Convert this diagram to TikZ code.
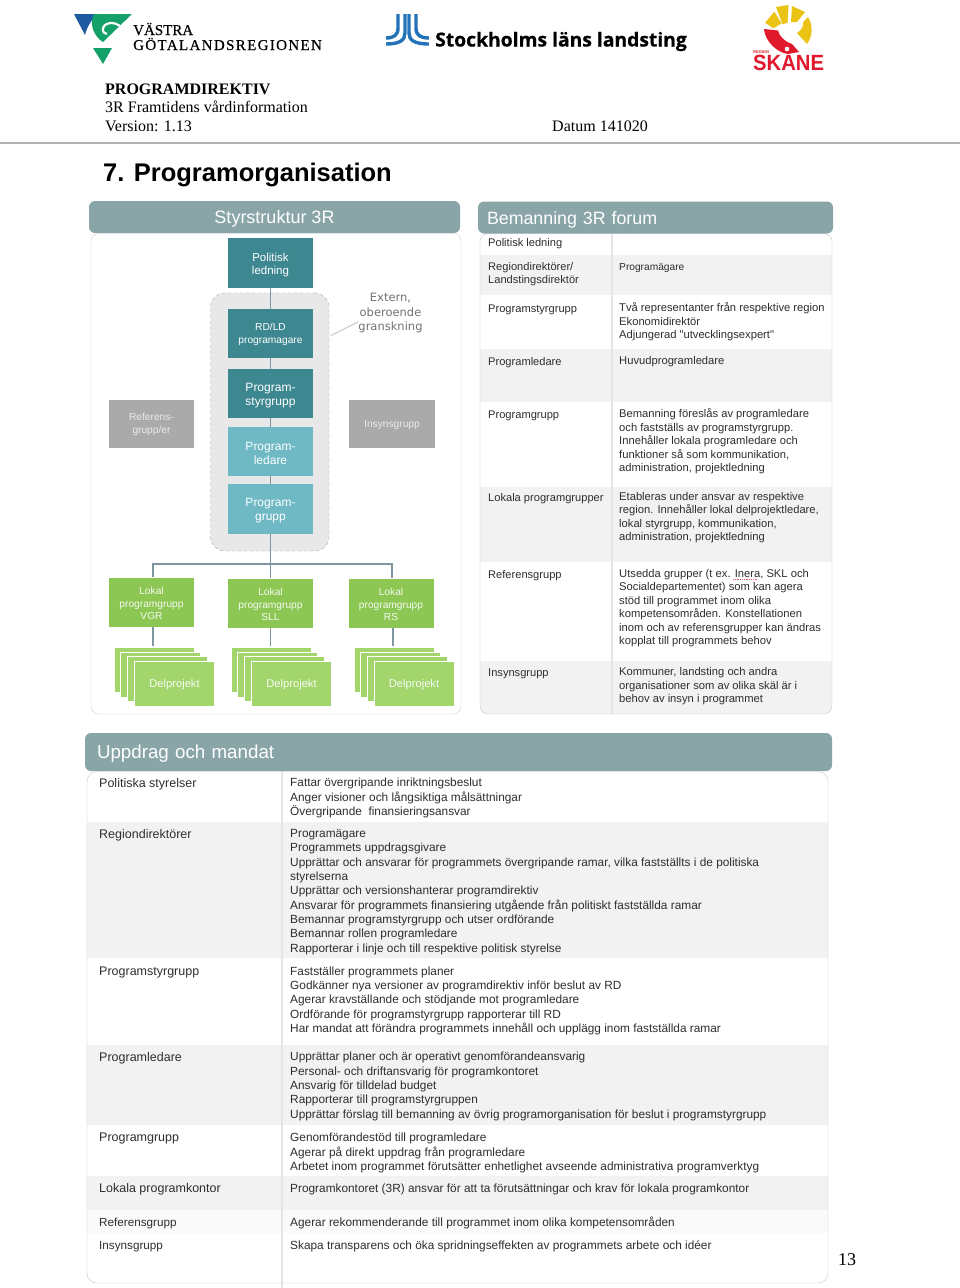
\documentclass[tikz,border=0pt]{standalone}
\usepackage{fontspec}
\setmainfont{Liberation Serif}
\newfontfamily\ArialFont{Liberation Sans}
\newfontfamily\VerdanaFont{DejaVu Sans}
\newfontfamily\LogoFont[BoldFeatures={FakeBold=0.6}]{Open Sans}
\newfontfamily\VgrFont[FakeBold=0.35]{Liberation Serif}
\newfontfamily\SpacedFont[LetterSpace=9,FakeBold=0.35]{Liberation Serif}
\definecolor{ColHead}{RGB}{137,165,168}
\definecolor{ColDark}{RGB}{61,135,145}
\definecolor{ColLight}{RGB}{110,185,195}
\definecolor{ColGrey}{RGB}{170,170,170}
\definecolor{ColLokal}{RGB}{140,198,83}
\definecolor{ColDelp}{RGB}{162,213,107}
\definecolor{ColBand}{RGB}{242,242,242}
\definecolor{ColEdge}{RGB}{125,150,160}
\definecolor{ColFrame}{RGB}{208,212,216}
\definecolor{ColVgrB}{RGB}{30,90,160}
\definecolor{ColVgrG}{RGB}{20,160,105}
\definecolor{ColSll}{RGB}{35,115,185}
\definecolor{ColSunY}{RGB}{235,195,20}
\definecolor{ColSunR}{RGB}{225,25,45}
\tikzstyle{HeadBar}=[fill=ColHead,rounded corners=6pt,inner sep=0pt,inner xsep=9pt,minimum height=32pt,text=white,
text height=15.5pt,text depth=2pt]
\tikzstyle{BoxOrg}=[inner sep=0pt,minimum width=85pt,minimum height=50pt,align=center,text=white,
execute at begin node={\rule{0pt}{0.98em}},font=\ArialFont\fontsize{11.5}{13}\selectfont]
\tikzstyle{TwoLines}=[execute at begin node={\rule{0pt}{2.15em}}]
\tikzstyle{ThreeLines}=[execute at begin node={\rule{0pt}{3.45em}}]
\tikzstyle{BoxDark}=[BoxOrg,fill=ColDark]
\tikzstyle{BoxLight}=[BoxOrg,fill=ColLight]
\tikzstyle{BoxGrey}=[BoxOrg,fill=ColGrey,text=white!92!black,minimum height=48.5pt,
font=\ArialFont\fontsize{10.2}{13}\selectfont]
\tikzstyle{BoxLokal}=[BoxOrg,ThreeLines,fill=ColLokal,text=white!92!ColLokal,minimum height=49pt,
font=\ArialFont\fontsize{10.2}{12.4}\selectfont]
\tikzstyle{BoxDelp}=[BoxOrg,fill=ColDelp,draw=white,minimum width=80pt,minimum height=45pt,text=white!92!ColDelp,
font=\ArialFont\fontsize{11.2}{13}\selectfont]
\tikzstyle{EdgeOrg}=[ColEdge,line width=1.6pt]
\tikzstyle{CellLeft}=[anchor=north west,inner sep=0pt,align=left,yshift=5.75pt,text=black!82,
execute at begin node=\strut,font=\ArialFont\fontsize{12.5}{14.35}\selectfont]
\tikzstyle{CellRight}=[CellLeft,font=\ArialFont\fontsize{11.85}{14.35}\selectfont]
\tikzstyle{ForumLeft}=[CellLeft,yshift=-0.8pt,font=\ArialFont\fontsize{11.1}{13.5}\selectfont]
\tikzstyle{ForumRight}=[ForumLeft,font=\ArialFont\fontsize{11.2}{13.5}\selectfont]
\tikzstyle{PageText}=[anchor=base west,inner sep=0pt,font=\fontsize{16}{18}\selectfont]

\begin{document}
\begin{tikzpicture}[x=1pt,y=-1pt]
        \useasboundingbox(0,0)rectangle(960,1288);
        \fill[white](0,0)rectangle(960,1288);
        % logo left
        \fill[ColVgrB](74,14)--(98,14).. controls (91,20) and (87,27) .. (85,35)--cycle;
        \fill[ColVgrG](94,14)--(132,14)--(103,42).. controls (96,38) and (88,26) .. (94,14)--cycle;
        \draw[white,line width=2.2pt](120,26).. controls (115,22) and (106,21) .. (103,28).. controls (102,32) and (105,34) .. (107,34);
        \fill[ColVgrG](93,48)--(112,48)--(103,64)--cycle;
        \node[anchor=base west,inner sep=0pt,font=\VgrFont\fontsize{15}{16}\selectfont](VgrOne)at(133,35){VÄSTRA};
        \node[anchor=base west,inner sep=0pt,font=\SpacedFont\fontsize{15}{16}\selectfont](VgrTwo)at(133,50){GÖTALANDSREGIONEN};
        % logo middle
        \draw[ColSll,line width=3.4pt](398,14)--(398,28).. controls (398,35) and (394,38) .. (386,38);
        \draw[ColSll,line width=3.4pt](405,14)--(405,33).. controls (405,40) and (400,44) .. (386,44);
        \draw[ColSll,line width=3.4pt](409,14)--(409,33).. controls (409,40) and (414,44) .. (429,44);
        \draw[ColSll,line width=3.4pt](416,14)--(416,28).. controls (416,35) and (420,38) .. (429,38);
        \node[anchor=base west,inner sep=0pt,font=\LogoFont\bfseries\fontsize{19.3}{20}\selectfont](SllText)at(435,46.5){Stockholms läns landsting};
        % logo right
        \fill[ColSunY](765,22.7)--(774.3,11.7)--(781.7,23.3)--(773.3,28.3)--cycle;
        \fill[ColSunY](776,7)--(788.5,5)--(787.5,23)--(782.5,24)--cycle;
        \fill[ColSunY](792,6)--(805,12)--(797,22)--(791,22)--cycle;
        \fill[ColSunY](808,17).. controls (813,25) and (813,36) .. (807,44)--(797,33).. controls (802,30) and (804,25) .. (803,22)--cycle;
        \fill[ColSunR](764,29)--(778,30.5).. controls (779,36) and (785,42) .. (792,44)--(799,52)--(788,54).. controls (778,53) and (765,42) .. (764,29)--cycle;
        \fill[white](787,49)circle(2.3);
        \node[anchor=base west,inner sep=0pt,text=ColSunR,font=\ArialFont\bfseries\fontsize{4}{5}\selectfont](SkaneSmall)at(753,53.5){REGION};
        \node[anchor=base west,inner sep=0pt,text=ColSunR,font=\ArialFont\bfseries\fontsize{22}{24}\selectfont,xscale=0.92](SkaneText)at(753,70.5){SKANE};
        % page head
        \node[PageText,font=\bfseries\fontsize{16}{18}\selectfont](DocKind)at(105,94.5){PROGRAMDIREKTIV};
        \node[PageText](DocName)at(105,112){3R Framtidens vårdinformation};
        \node[PageText](DocVersion)at(105,131){Version: 1.13};
        \node[PageText](DocDate)at(552,131){Datum 141020};
        \draw[black!30,line width=2pt](0,142.5)--(960,142.5);
        \node[PageText,font=\ArialFont\bfseries\fontsize{25.5}{30}\selectfont](DocTitle)at(103,181){7. Programorganisation};
        \node[PageText,font=\fontsize{18}{20}\selectfont](PageNum)at(838,1265){13};
        % left panel
        \draw[ColFrame,fill=white,rounded corners=8pt](91,233.5)rectangle(461,714);
        \node[HeadBar,minimum width=371pt,font=\ArialFont\fontsize{18}{20}\selectfont](HeadOrg)at(274.5,217){Styrstruktur 3R};
        \node[fill=black!9,draw=black!35,dashed,rounded corners=14pt,minimum width=118.5pt,minimum height=258pt](GroupOrg)at(269.75,422){};
        \node[BoxDark,TwoLines](Politisk)at(270.5,263){Politisk\\ledning};
        \node[BoxDark,TwoLines,minimum height=49pt,font=\ArialFont\fontsize{10.2}{12.5}\selectfont](Rdld)at(270.5,333.5){RD/LD\\programagare};
        \node[BoxDark,TwoLines,minimum height=49pt,font=\ArialFont\fontsize{12}{14}\selectfont](ProgStyr)at(270.5,393.5){Program-\\styrgrupp};
        \node[BoxLight,TwoLines,minimum height=49pt,font=\ArialFont\fontsize{12}{14}\selectfont](ProgLed)at(270.5,451.5){Program-\\ledare};
        \node[BoxLight,TwoLines,font=\ArialFont\fontsize{12}{14}\selectfont](ProgGrp)at(270.5,509){Program-\\grupp};
        \node[BoxGrey,TwoLines](RefGrp)at(151.5,424){Referens-\\grupp/er};
        \node[BoxGrey,minimum width=86pt](InsGrp)at(392,424){Insynsgrupp};
        \node[inner sep=0pt,align=center,text=black!55,ThreeLines,font=\VerdanaFont\fontsize{11.5}{14.4}\selectfont](Extern)at(390.5,312){Extern,\\oberoende\\granskning};
        \coordinate(ExternEnd)at(331,335.5);
        \draw[black!25,line width=0.8pt](ExternEnd)--(Extern.197);
        \draw[EdgeOrg](Politisk)--(Rdld);
        \draw[EdgeOrg](Rdld)--(ProgStyr);
        \draw[EdgeOrg](ProgStyr)--(ProgLed);
        \draw[EdgeOrg](ProgLed)--(ProgGrp);
        \coordinate(BusMid)at(270.5,564);
        \coordinate(BusLeft)at(153,564);
        \coordinate(BusRight)at(392,564);
        \node[BoxLokal](LokalVgr)at(151.5,602){Lokal\\programgrupp\\VGR};
        \node[BoxLokal](LokalSll)at(270.5,603){Lokal\\programgrupp\\SLL};
        \node[BoxLokal](LokalRs)at(391,603){Lokal\\programgrupp\\RS};
        \draw[EdgeOrg](ProgGrp)--(BusMid);
        \draw[EdgeOrg](BusMid)--(LokalSll);
        \draw[EdgeOrg](LokalVgr.north-|BusLeft)--(BusLeft)--(BusRight)--(LokalRs.north-|BusRight);
        \coordinate(VgrTop)at(153,646);
        \coordinate(SllTop)at(270.5,646);
        \coordinate(RsTop)at(393,646);
        \draw[EdgeOrg](LokalVgr.south-|VgrTop)--(VgrTop);
        \draw[EdgeOrg](LokalSll.south-|SllTop)--(SllTop);
        \draw[EdgeOrg](LokalRs.south-|RsTop)--(RsTop);
        \node[BoxDelp](VgrA)at(154,670){};
        \node[BoxDelp](VgrB)at(160.5,674.5){};
        \node[BoxDelp](VgrC)at(167.5,678.5){};
        \node[BoxDelp](VgrD)at(174.5,683.5){Delprojekt};
        \node[BoxDelp](SllA)at(271.5,670){};
        \node[BoxDelp](SllB)at(277,674.5){};
        \node[BoxDelp](SllC)at(284.5,678.5){};
        \node[BoxDelp](SllD)at(291.5,683.5){Delprojekt};
        \node[BoxDelp](RsA)at(394,670){};
        \node[BoxDelp](RsB)at(400,674.5){};
        \node[BoxDelp](RsC)at(407,678.5){};
        \node[BoxDelp](RsD)at(414,683.5){Delprojekt};
        % right panel
        \begin{scope}
            \clip[rounded corners=8pt](480,233.5)rectangle(832,714);
            \fill[ColBand](480,255)rectangle(832,295);
            \fill[ColBand](480,349)rectangle(832,402);
            \fill[ColBand](480,487)rectangle(832,562);
            \fill[ColBand](480,661)rectangle(832,714);
            \draw[black!10,line width=1.2pt](612,233)--(612,714);
        \end{scope}
        \draw[black!22,rounded corners=8pt](480,233.5)rectangle(832,714);
        \node[HeadBar,minimum width=355pt,text width=337pt,font=\ArialFont\fontsize{17.8}{20}\selectfont](HeadForum)at(655.5,217.5){Bemanning 3R forum};
        \node[ForumLeft](FaPol)at(488,242){Politisk ledning};
        \node[ForumLeft](FaReg)at(488,267){Regiondirektörer/\\Landstingsdirektör};
        \node[ForumLeft](FaStyr)at(488,307.5){Programstyrgrupp};
        \node[ForumLeft](FaLed)at(488,360.5){Programledare};
        \node[ForumLeft](FaGrp)at(488,414){Programgrupp};
        \node[ForumLeft](FaLok)at(488,497){Lokala programgrupper};
        \node[ForumLeft](FaRef)at(488,574){Referensgrupp};
        \node[ForumLeft](FaIns)at(488,672){Insynsgrupp};
        \node[ForumRight,font=\ArialFont\fontsize{10.2}{13.5}\selectfont](FbReg)at(619,265.5){Programägare};
        \node[ForumRight](FbStyr)at(619,307.5){Två representanter från respektive region\\Ekonomidirektör\\Adjungerad "utvecklingsexpert"};
        \node[ForumRight](FbLed)at(619,360){Huvudprogramledare};
        \node[ForumRight](FbGrp)at(619,413.5){Bemanning föreslås av programledare\\och fastställs av programstyrgrupp.\\Innehåller lokala programledare och\\funktioner så som kommunikation,\\administration, projektledning};
        \node[ForumRight](FbLok)at(619,497){Etableras under ansvar av respektive\\region. Innehåller lokal delprojektledare,\\lokal styrgrupp, kommunikation,\\administration, projektledning};
        \node[ForumRight](FbRef)at(619,574){Utsedda grupper (t ex. Inera, SKL och\\Socialdepartementet) som kan agera\\stöd till programmet inom olika\\kompetensområden. Konstellationen\\inom och av referensgrupper kan ändras\\kopplat till programmets behov};
        \node[ForumRight](FbIns)at(619,672.5){Kommuner, landsting och andra\\organisationer som av olika skäl är i\\behov av insyn i programmet};
        \coordinate(WaveA)at(733,579.5);
        \coordinate(WaveB)at(758,579.5);
        \draw[ColSunR!70,densely dotted,line width=0.8pt](WaveA)--(WaveB);
        % bottom panel
        \begin{scope}
            \clip[rounded corners=10pt](87,771.5)rectangle(828,1283);
            \fill[ColBand](87,822)rectangle(828,958);
            \fill[ColBand](87,1045)rectangle(828,1125);
            \fill[ColBand](87,1176)rectangle(828,1210);
            \fill[ColBand!40](87,1210)rectangle(828,1233);
        \end{scope}
        \draw[black!10,line width=1.2pt](282,771)--(282,1288);
        \draw[black!22,rounded corners=10pt](87,771.5)rectangle(828,1283);
        \node[HeadBar,minimum width=747pt,minimum height=38pt,text width=723pt,text height=15pt,text depth=3pt,font=\ArialFont\fontsize{18.75}{22}\selectfont,inner xsep=12pt](HeadMandat)at(458.5,752){Uppdrag och mandat};
        \node[CellLeft](MaPol)at(99,783){Politiska styrelser};
        \node[CellLeft](MaReg)at(99,833.5){Regiondirektörer};
        \node[CellLeft](MaStyr)at(99,971){Programstyrgrupp};
        \node[CellLeft](MaLed)at(99,1057){Programledare};
        \node[CellLeft](MaGrp)at(99,1137){Programgrupp};
        \node[CellLeft](MaLok)at(99,1188){Lokala programkontor};
        \node[CellLeft,font=\ArialFont\fontsize{11.7}{14.35}\selectfont](MaRef)at(99,1222){Referensgrupp};
        \node[CellLeft,font=\ArialFont\fontsize{11.7}{14.35}\selectfont](MaIns)at(99,1245){Insynsgrupp};
        \node[CellRight](MbPol)at(290,783.7){Fattar övergripande inriktningsbeslut\\Anger visioner och långsiktiga målsättningar\\Övergripande\ \ finansieringsansvar};
        \node[CellRight](MbReg)at(290,834.7){Programägare\\Programmets uppdragsgivare\\Upprättar och ansvarar för programmets övergripande ramar, vilka fastställts i de politiska\\styrelserna\\Upprättar och versionshanterar programdirektiv\\Ansvarar för programmets finansiering utgående från politiskt fastställda ramar\\Bemannar programstyrgrupp och utser ordförande\\Bemannar rollen programledare\\Rapporterar i linje och till respektive politisk styrelse};
        \node[CellRight](MbStyr)at(290,972){Fastställer programmets planer\\Godkänner nya versioner av programdirektiv inför beslut av RD\\Agerar kravställande och stödjande mot programledare\\Ordförande för programstyrgrupp rapporterar till RD\\Har mandat att förändra programmets innehåll och upplägg inom fastställda ramar};
        \node[CellRight](MbLed)at(290,1057.7){Upprättar planer och är operativt genomförandeansvarig\\Personal- och driftansvarig för programkontoret\\Ansvarig för tilldelad budget\\Rapporterar till programstyrgruppen\\Upprättar förslag till bemanning av övrig programorganisation för beslut i programstyrgrupp};
        \node[CellRight](MbGrp)at(290,1138.7){Genomförandestöd till programledare\\Agerar på direkt uppdrag från programledare\\Arbetet inom programmet förutsätter enhetlighet avseende administrativa programverktyg};
        \node[CellRight](MbLok)at(290,1188){Programkontoret (3R) ansvar för att ta förutsättningar och krav för lokala programkontor};
        \node[CellRight](MbRef)at(290,1222){Agerar rekommenderande till programmet inom olika kompetensområden};
        \node[CellRight](MbIns)at(290,1245){Skapa transparens och öka spridningseffekten av programmets arbete och idéer};
    \end{tikzpicture}
\end{document}
